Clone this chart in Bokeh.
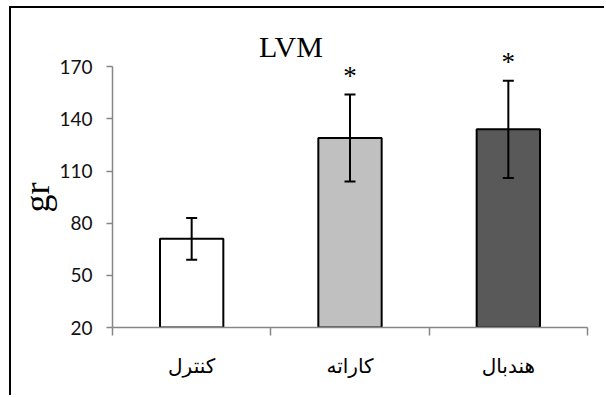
import numpy as np
from bokeh.plotting import figure
from bokeh.models import (Range1d, FixedTicker, Whisker, ColumnDataSource, Label,
                          LinearAxis, TeeHead, Title)
from bokeh.embed import file_html
from bokeh.resources import INLINE
from bokeh.core.properties import value

# ---- data ----
categories = ["کنترل", "کاراته", "هندبال"]
means = [71, 129, 134]
errors = [12, 25, 28]
significance = ["", "*", "*"]
y_ticks = [20, 50, 80, 110, 140, 170]
title_text = "LVM"
y_label = "gr"

# ---- styles ----
fills = ["#FFFFFF", "#C0C0C0", "#595959"]
axis_grey = "#868686"

x = np.arange(len(categories)) + 0.5
m = np.array(means, dtype=float)
e = np.array(errors, dtype=float)
src = ColumnDataSource(dict(x=x, top=m, upper=m + e, lower=m - e,
                            fill=fills, star=significance))

p = figure(width=595, height=389, x_range=Range1d(0, len(categories)),
           y_range=Range1d(y_ticks[0], 201.2),
           output_backend="svg", toolbar_location=None,
           x_axis_type=None, y_axis_type=None,
           min_border_left=101, min_border_right=19,
           min_border_top=4, min_border_bottom=70)
p.outline_line_color = None
p.xgrid.visible = False
p.ygrid.visible = False
# outer chart border: only left and top edges are inside the window
p.styles = {"border-left": "2px solid black", "border-top": "2px solid black",
            "margin-left": "9px", "margin-top": "6px"}

# y axis
yaxis = LinearAxis(ticker=FixedTicker(ticks=y_ticks), bounds=(y_ticks[0], y_ticks[-1]))
yaxis.axis_line_color = axis_grey
yaxis.axis_line_width = 1.5
yaxis.major_tick_line_color = axis_grey
yaxis.major_tick_line_width = 1.5
yaxis.major_tick_out = 6
yaxis.major_tick_in = 0
yaxis.minor_tick_line_color = None
yaxis.major_label_standoff = 14
yaxis.major_label_text_font = "Lato"
yaxis.major_label_text_font_size = "19px"
yaxis.major_label_text_color = "#111111"
p.add_layout(yaxis, "left")

# y axis title, placed (pixels up from the plot bottom) at the middle of the 20-170 span
p.add_layout(Title(text=y_label, align="left", offset=115, standoff=0,
                   text_font="Liberation Serif", text_font_style="normal",
                   text_font_size="36px", text_color="black"), "left")

# x axis: labels at category centers, ticks at category boundaries
xaxis = LinearAxis(ticker=FixedTicker(ticks=list(x),
                                      minor_ticks=list(np.arange(len(categories) + 1))))
xaxis.major_label_overrides = {float(xi): c for xi, c in zip(x, categories)}
xaxis.axis_line_color = axis_grey
xaxis.axis_line_width = 1.5
xaxis.major_tick_line_color = None
xaxis.major_tick_out = 0
xaxis.major_tick_in = 0
xaxis.minor_tick_line_color = axis_grey
xaxis.minor_tick_line_width = 1.5
xaxis.minor_tick_out = 8
xaxis.minor_tick_in = 0
xaxis.major_label_standoff = 18
xaxis.major_label_text_font = "DejaVu Sans"
xaxis.major_label_text_font_size = "20px"
xaxis.major_label_text_color = "black"
p.add_layout(xaxis, "below")

# bars
p.vbar(x="x", top="top", bottom=y_ticks[0], width=0.4, source=src,
       fill_color="fill", line_color="black", line_width=2)

# error bars
w = Whisker(base="x", upper="upper", lower="lower", source=src,
            line_color="black", line_width=2,
            upper_head=TeeHead(size=11, line_width=2, line_color="black"),
            lower_head=TeeHead(size=11, line_width=2, line_color="black"))
w.level = "overlay"
p.add_layout(w)

# significance stars
p.text(x="x", y="upper", text="star", source=src,
       text_font=value("Liberation Serif"), text_font_size="27px",
       text_align="center", text_baseline="alphabetic", y_offset=-19,
       text_color="black")

# title (x in pixels from the plot-area's left edge)
p.add_layout(Label(x=178.5, y=181.8, x_units="screen", y_units="data",
                   text=title_text, text_align="center", text_baseline="alphabetic",
                   text_font="Liberation Serif", text_font_size="30px",
                   text_color="black"))

open("out.html", "w").write(file_html(p, INLINE))
